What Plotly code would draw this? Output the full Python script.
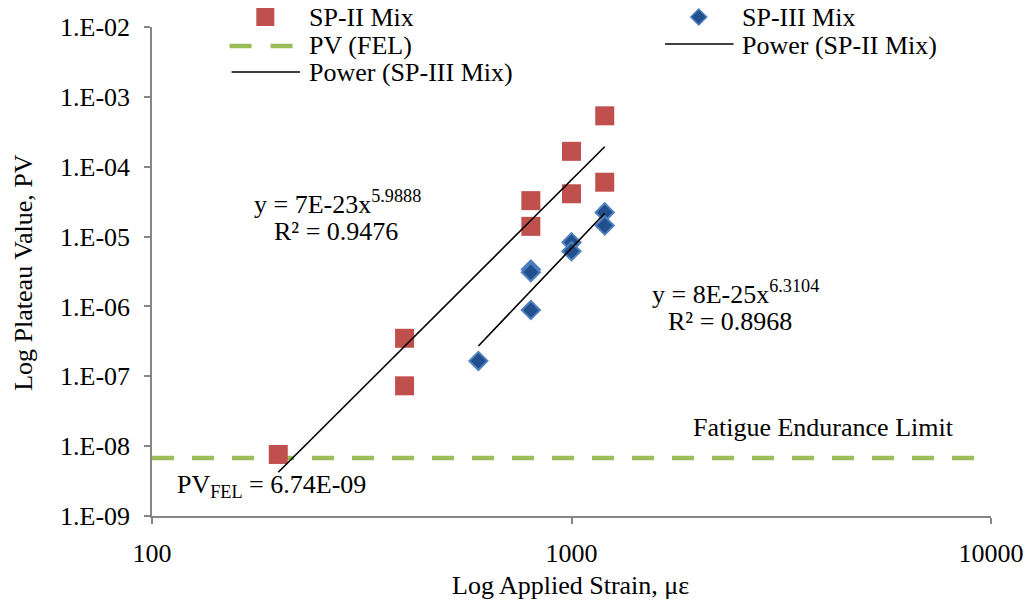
import plotly.graph_objects as go

# Measured plateau values (PV) against applied strain (microstrain)
sp2_strain = [200, 400, 400, 800, 800, 1000, 1000, 1200, 1200]
sp2_pv = [7.6e-9, 3.5e-7, 7.3e-8, 3.27e-5, 1.40e-5, 1.66e-4, 4.1e-5, 5.35e-4, 6.0e-5]

sp3_strain = [600, 800, 800, 800, 1000, 1000, 1200, 1200]
sp3_pv = [1.66e-7, 3.38e-6, 3.09e-6, 8.86e-7, 8.3e-6, 6.17e-6, 2.22e-5, 1.44e-5]

# Fatigue endurance limit
pv_fel = 6.74e-9
fel_strain = [100, 10000]

# Power-law trendlines y = a * x^b
sp2_a, sp2_b = 7e-23, 5.9888
sp3_a, sp3_b = 8e-25, 6.3104
sp2_fit_x = [200, 1200]
sp3_fit_x = [600, 1200]

x_ticks = [100, 1000, 10000]
y_ticks = [1e-9, 1e-8, 1e-7, 1e-6, 1e-5, 1e-4, 1e-3, 1e-2]
y_tick_text = ["1.E-09", "1.E-08", "1.E-07", "1.E-06", "1.E-05", "1.E-04", "1.E-03", "1.E-02"]

RED = "#C0504D"
BLUE_FILL = "#22508E"
BLUE_EDGE = "#4F81BD"
GREEN = "#9BBB59"
AXIS = "#868686"
FONT = "Liberation Serif, Times New Roman, serif"
FS = 26

fig = go.Figure()

fig.add_trace(go.Scatter(
    x=fel_strain, y=[pv_fel] * len(fel_strain), mode="lines",
    line=dict(color=GREEN, width=4.5, dash="22px,18px"), showlegend=False))

fig.add_trace(go.Scatter(
    x=sp2_strain, y=sp2_pv, mode="markers",
    marker=dict(symbol="square", size=19, color=RED, line=dict(width=0)),
    showlegend=False))

fig.add_trace(go.Scatter(
    x=sp3_strain, y=sp3_pv, mode="markers",
    marker=dict(symbol="diamond", size=14, color=BLUE_FILL,
                line=dict(color=BLUE_EDGE, width=2)),
    showlegend=False))

fig.add_trace(go.Scatter(
    x=sp2_fit_x, y=[sp2_a * x ** sp2_b for x in sp2_fit_x], mode="lines",
    line=dict(color="black", width=1.6), showlegend=False))

fig.add_trace(go.Scatter(
    x=sp3_fit_x, y=[sp3_a * x ** sp3_b for x in sp3_fit_x], mode="lines",
    line=dict(color="black", width=1.6), showlegend=False))

# plot-area geometry in pixels, used to place text and the legend
L, R, T, B = 152, 996, 27, 516
W, H = 1036, 607


def px(x):
    return (x - L) / (R - L)


def py(y):
    return (B - y) / (B - T)


def text(x, y, s, anchor="center", angle=0, size=FS):
    fig.add_annotation(x=px(x), y=py(y), xref="paper", yref="paper",
                       text=s, showarrow=False, xanchor=anchor, yanchor="middle",
                       textangle=angle, font=dict(family=FONT, size=size, color="black"))


# equations and notes
text(339, 202, "y = 7E-23x<sup>5.9888</sup>")
text(337, 231, "R² = 0.9476")
text(739, 292, "y = 8E-25x<sup>6.3104</sup>")
text(733, 322, "R² = 0.8968")
text(828, 427, "Fatigue Endurance Limit")
text(175, 486, "PV<sub>FEL</sub> = 6.74E-09", anchor="left")

# axis titles
text(573, 585, "Log Applied Strain, με")
text(22, 272, "Log Plateau Value, PV", angle=-90)

# legend
text(308, 17, "SP-II Mix", anchor="left")
text(308, 46, "PV (FEL)", anchor="left")
text(308, 73, "Power (SP-III Mix)", anchor="left")
text(744, 17, "SP-III Mix", anchor="left")
text(744, 45, "Power (SP-II Mix)", anchor="left")

fig.add_shape(type="rect", xref="paper", yref="paper",
              xsizemode="pixel", ysizemode="pixel",
              xanchor=px(266), yanchor=py(17),
              x0=-9, x1=9, y0=-9, y1=9,
              fillcolor=RED, line=dict(width=0))
fig.add_shape(type="path", xref="paper", yref="paper",
              xsizemode="pixel", ysizemode="pixel",
              xanchor=px(702), yanchor=py(17),
              path="M -8 0 L 0 8 L 8 0 L 0 -8 Z",
              fillcolor=BLUE_FILL, line=dict(color=BLUE_EDGE, width=1.5))
fig.add_shape(type="line", xref="paper", yref="paper",
              x0=px(230), x1=px(294), y0=py(46), y1=py(46),
              line=dict(color=GREEN, width=4.5, dash="22px,19px"))
fig.add_shape(type="line", xref="paper", yref="paper",
              x0=px(232), x1=px(301), y0=py(72), y1=py(72),
              line=dict(color="black", width=1.6))
fig.add_shape(type="line", xref="paper", yref="paper",
              x0=px(668), x1=px(737), y0=py(44), y1=py(44),
              line=dict(color="black", width=1.6))

fig.update_xaxes(
    type="log", range=[2, 4], tickvals=x_ticks, ticktext=[str(v) for v in x_ticks],
    showgrid=False, zeroline=False, showline=True, linecolor=AXIS, linewidth=1.5,
    ticks="outside", ticklen=6, tickcolor=AXIS, tickwidth=1.5,
    tickfont=dict(family=FONT, size=FS, color="black"), ticklabelstandoff=7)

fig.update_yaxes(
    type="log", range=[-9, -2], tickvals=y_ticks, ticktext=y_tick_text,
    showgrid=False, zeroline=False, showline=True, linecolor=AXIS, linewidth=1.5,
    ticks="outside", ticklen=6, tickcolor=AXIS, tickwidth=1.5,
    tickfont=dict(family=FONT, size=FS, color="black"), ticklabelstandoff=9)

fig.update_layout(
    width=W, height=H, autosize=False,
    margin=dict(l=L, r=W - R, t=T, b=H - B, pad=0),
    paper_bgcolor="white", plot_bgcolor="white",
    font=dict(family=FONT, size=FS, color="black"),
    showlegend=False)

fig.write_html("out.html")
